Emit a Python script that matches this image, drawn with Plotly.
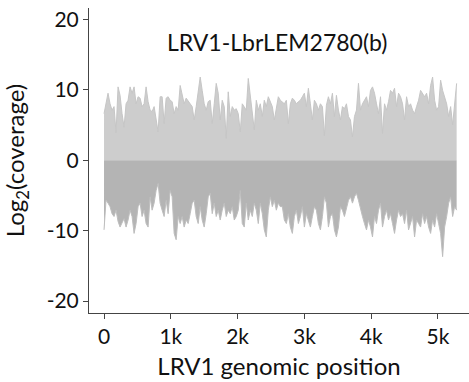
import plotly.graph_objects as go

step_bp = 30
plus_strand = [
    6.6, 8.3, 9.5, 8.0, 7.1, 7.6, 3.9, 10.4, 9.2, 6.6, 4.7, 8.0, 8.5, 10.4, 9.5, 10.4, 8.0, 9.0, 8.8, 7.6,
    8.0, 10.4, 8.3, 7.1, 6.9, 7.6, 5.7, 4.0, 9.0,
    9.0, 5.2, 8.8, 9.0, 8.5, 8.3, 6.6, 7.6, 7.1, 10.6, 9.0, 8.0, 8.8, 8.3, 8.0, 7.6, 5.7, 7.6, 9.7, 11.8,
    9.9, 8.0, 7.1, 8.3, 8.5, 5.2, 8.0, 10.9, 9.5, 5.7,
    8.5, 7.6, 3.1, 9.7, 6.2, 7.6, 7.1, 7.3, 6.6, 4.0, 8.0, 7.6, 7.1, 11.6, 9.0, 6.2, 4.3, 8.5, 7.1, 8.0,
    6.2, 8.5, 7.6, 9.0, 8.3, 7.6, 5.7, 7.1, 9.0, 8.5,
    8.3, 8.0, 8.5, 5.2, 8.0, 8.8, 8.5, 8.0, 8.3, 8.5, 9.0, 9.5, 7.6, 10.2, 8.0, 5.7, 8.5, 8.0, 7.1, 8.0,
    7.6, 3.5, 7.8, 9.0, 8.0, 9.5, 6.2, 9.2, 7.1, 5.7,
    7.6, 7.3, 8.0, 6.2, 5.7, 3.3, 6.2, 7.1, 10.9, 7.1, 8.0, 8.5, 9.0, 7.6, 9.9, 10.4, 9.5, 8.0, 6.6, 9.0,
    3.8, 8.0, 7.1, 8.3, 9.9, 9.5, 10.2, 7.6, 9.5, 9.0,
    8.0, 5.7, 9.0, 7.6, 8.0, 7.1, 6.6, 7.6, 8.5, 9.9, 9.5, 9.0, 9.5, 8.0, 10.6, 11.8, 8.5, 7.1, 7.6, 11.35,
    9.9, 9.0, 8.0, 6.2, 7.6, 5.0, 8.5, 10.9,
]
minus_strand = [
    -9.9, -5.7, -6.1, -6.6, -7.6, -8.0, -7.1, -8.7, -9.5, -9.0, -8.3, -9.5, -8.5, -7.1, -8.0, -10.4, -9.0, -6.6, -6.1, -8.0,
    -7.1, -9.0, -9.5, -5.2, -7.1, -6.1, -4.3, -3.3, -6.1,
    -7.1, -8.0, -5.7, -7.6, -4.3, -5.2, -10.4, -11.3, -8.0, -9.0, -8.0, -9.5, -8.5, -9.0, -7.6, -6.1, -5.7, -8.0, -9.0, -6.6,
    -8.5, -9.5, -7.6, -5.2, -4.7, -7.6, -6.1, -8.0, -7.1, -8.5,
    -7.1, -6.1, -8.0, -7.1, -7.6, -6.6, -8.5, -8.0, -7.1, -4.3, -9.0, -9.5, -6.1, -8.5, -7.1, -8.0, -6.1, -7.1, -9.0, -6.1,
    -7.6, -9.9, -10.9, -7.1, -5.2, -6.6, -5.7, -7.1, -6.1, -6.6,
    -6.6, -8.5, -9.0, -7.6, -9.5, -10.4, -8.0, -7.1, -9.0, -8.0, -6.6, -9.5, -7.6, -8.5, -9.5, -8.0, -6.6, -7.1, -9.0, -9.9,
    -8.0, -5.2, -6.1, -9.5, -8.0, -7.6, -9.9, -10.9, -9.5, -6.6,
    -7.1, -8.0, -6.6, -5.7, -5.2, -6.1, -5.2, -4.7, -5.7, -7.1, -8.0, -9.0, -9.9, -8.5, -9.5, -10.9, -8.0, -9.0, -7.1, -6.1,
    -9.5, -8.0, -7.1, -8.5, -7.6, -9.0, -10.4, -8.5, -7.1, -8.0,
    -7.6, -9.0, -7.1, -9.9, -9.0, -8.0, -10.9, -8.5, -9.0, -9.5, -7.6, -9.0, -8.0, -9.5, -10.4, -8.5, -9.5, -7.6, -9.0, -10.4,
    -13.7, -9.5, -8.0, -6.1, -5.2, -8.0, -6.6, -7.1,
]
positions = [i * step_bp for i in range(len(plus_strand))]

x_tick_vals = [0, 1000, 2000, 3000, 4000, 5000]
x_tick_text = ["0", "1k", "2k", "3k", "4k", "5k"]
y_tick_vals = [-20, -10, 0, 10, 20]
y_tick_text = ["-20", "-10", "0", "10", "20"]

FONT = "Lato, 'Open Sans', sans-serif"

fig = go.Figure()
fig.add_trace(go.Scatter(
    x=positions, y=plus_strand, mode="lines", fill="tozeroy",
    fillcolor="#cdcdcd", line=dict(color="#c6c6c6", width=1), showlegend=False,
))
fig.add_trace(go.Scatter(
    x=positions, y=minus_strand, mode="lines", fill="tozeroy",
    fillcolor="#b4b4b4", line=dict(color="#bebebe", width=1), showlegend=False,
))

axis_common = dict(
    showline=True, linecolor="#444444", linewidth=1,
    ticks="outside", ticklen=5, tickcolor="#444444", tickwidth=1,
    showgrid=False, zeroline=False, mirror=False, automargin=False,
    tickfont=dict(family=FONT, size=21, color="#111111"),
)

fig.update_layout(
    width=469, height=382,
    margin=dict(l=89, r=0, t=8, b=69),
    paper_bgcolor="white", plot_bgcolor="white",
    xaxis=dict(range=[-225, 5465], tickvals=x_tick_vals, ticktext=x_tick_text,
               title=dict(text="LRV1 genomic position", font=dict(family=FONT, size=24, color="#111111"), standoff=10),
               **axis_common),
    yaxis=dict(range=[-21.7, 21.6], tickvals=y_tick_vals, ticktext=y_tick_text,
               title=dict(text="Log<sub>2</sub>(coverage)", font=dict(family=FONT, size=24, color="#111111"), standoff=16),
               **axis_common),
    annotations=[dict(text="LRV1-LbrLEM2780(b)", x=0.495, y=0.94, xref="paper", yref="paper",
                      showarrow=False, font=dict(family=FONT, size=23, color="#111111"))],
)

fig.write_html("out.html", config={"displayModeBar": False},
               post_script="document.body.style.margin='0';document.body.style.padding='0';")
